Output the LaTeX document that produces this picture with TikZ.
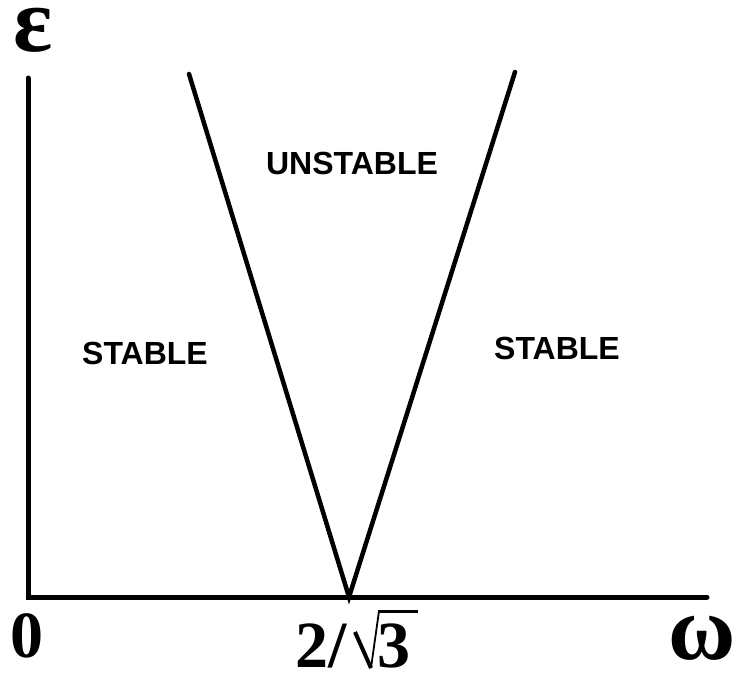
\documentclass[tikz,border=0pt]{standalone}
\usepackage{fontspec}
\setmainfont{Liberation Serif}
\newfontfamily\regionfont{Liberation Sans}
\usetikzlibrary{positioning}

\begin{document}
\begin{tikzpicture}[
  x=1pt, y=-1pt,
  axis/.style={line width=5pt, line cap=round, line join=miter},
  border/.style={line width=4.5pt, line cap=round},
  region/.style={font=\regionfont\bfseries\fontsize{32}{32}\selectfont, inner sep=0pt},
  ticklabel/.style={font=\bfseries\fontsize{66}{66}\selectfont, inner sep=0pt,
    anchor=base, text height=0.68em, text depth=0pt},
  greek/.style={font=\bfseries\fontsize{92}{92}\selectfont, inner sep=0pt,
    anchor=base, text height=0.47em, text depth=0pt}
]
\useasboundingbox (0,0) rectangle (734,679);
% axes
\coordinate (ytop) at (28,78);
\coordinate (origin) at (28,597);
\coordinate (xend) at (707,597);
\draw[axis] (ytop) -- (origin) -- (xend);
% stability boundaries
\coordinate (apex) at (349,597);
\coordinate (ltop) at (189,74);
\coordinate (rtop) at (515,72);
\draw[border] (ltop) -- (apex) -- (rtop);
% regions
\node[region] (unstable) at (352,163) {UNSTABLE};
\node[region] (stableL) at (145,353) {STABLE};
\node[region] (stableR) at (557,348) {STABLE};
% labels
\node[greek] (eps) at (33,52) {ε};
\node[greek] (omega) at (702,659) {ω};
\node[ticklabel] (zero) at (27,657) {0};
\node[ticklabel, anchor=base west] (two) at (295,667) {2/};
\node[ticklabel] (three) at (394,667) {3};
% radical sign
\draw[line width=4pt] (355,632) -- (371,668);
\draw[line width=1.8pt] (371,668) -- (379,611);
\draw[line width=3pt] (378,611) -- (418,611);
\end{tikzpicture}
\end{document}
